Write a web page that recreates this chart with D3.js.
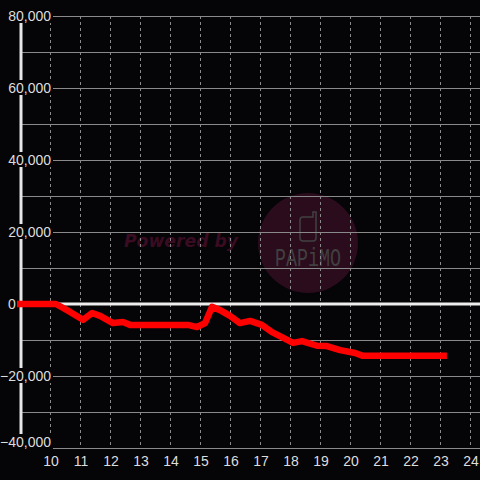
<!DOCTYPE html>
<html>
<head>
<meta charset="utf-8">
<script src="https://cdn.jsdelivr.net/npm/d3@7/dist/d3.min.js"></script>
<style>
  * { margin: 0; padding: 0; }
  body { background: #050407; overflow: hidden; }
  svg { display: block; }
</style>
</head>
<body>
<svg id="chart" width="480" height="480"></svg>
<script>
const hours = [8.9, 10.2, 10.67, 11.1, 11.4, 11.67, 12.1, 12.43, 12.67, 14.6, 14.9, 15.17, 15.4, 15.67, 16.0, 16.33, 16.67, 17.06, 17.4, 17.73, 18.1, 18.4, 18.9, 19.23, 19.67, 20.17, 20.43, 23.23]
const values = [0, 0, -2200, -4400, -2500, -3300, -5300, -5000, -5800, -5800, -6400, -5300, -800, -1700, -3300, -5300, -4700, -5800, -7800, -9200, -10800, -10300, -11600, -11700, -12800, -13600, -14400, -14400]
const yTicks = [80000, 60000, 40000, 20000, -20000, -40000]
const yGrid = [80000, 70000, 60000, 50000, 40000, 30000, 20000, 10000, -10000, -20000, -30000, -40000]
const xTicks = [10, 11, 12, 13, 14, 15, 16, 17, 18, 19, 20, 21, 22, 23, 24]

const svg = d3.select('#chart')
const x = d3.scaleLinear().domain([9, 24]).range([20, 470])
const y = d3.scaleLinear().domain([-40000, 80000]).range([448, 16])
const fmt = d3.format(',')

// watermark
const wm = svg.append('g')
wm.append('circle').attr('cx', 308).attr('cy', 243).attr('r', 50).attr('fill', '#2b0c1d')
wm.append('text').attr('x', 124).attr('y', 247)
  .attr('font-family', 'DejaVu Sans').attr('font-weight', 'bold').attr('font-style', 'italic')
  .attr('font-size', 17).attr('textLength', 114).attr('lengthAdjust', 'spacingAndGlyphs')
  .attr('fill', '#3a0c22').text('Powered by')
wm.append('path')
  .attr('d', 'M303,217 H313 V212 H316 V238 Q316,241 313,241 H303 Q300,241 300,238 V220 Q300,217 303,217 Z')
  .attr('fill', 'none').attr('stroke', '#404040').attr('stroke-width', 1.5)
wm.append('text').attr('x', 308).attr('y', 266).attr('text-anchor', 'middle')
  .attr('font-family', 'Liberation Mono').attr('font-size', 25)
  .attr('textLength', 66).attr('lengthAdjust', 'spacingAndGlyphs')
  .attr('fill', '#404040').text('PAPiMO')

// vertical dashed grid
svg.append('g').selectAll('line').data(xTicks).join('line')
  .attr('x1', d => x(d) + 0.5).attr('x2', d => x(d) + 0.5)
  .attr('y1', y(80000)).attr('y2', y(-40000))
  .attr('stroke', '#8a8a8a').attr('stroke-dasharray', '3,3')

// horizontal grid
svg.append('g').selectAll('line').data(yGrid).join('line')
  .attr('x1', 22).attr('x2', 480)
  .attr('y1', d => y(d) + 0.5).attr('y2', d => y(d) + 0.5)
  .attr('stroke', '#8a8a8a').attr('stroke-width', 1)

// zero line
svg.append('line').attr('x1', 22).attr('x2', 480).attr('y1', y(0)).attr('y2', y(0))
  .attr('stroke', '#eeeeee').attr('stroke-width', 3)

// y axis line
svg.append('line').attr('x1', 21).attr('x2', 21).attr('y1', y(80000)).attr('y2', y(-40000))
  .attr('stroke', '#e6e6e6').attr('stroke-width', 3)

// y labels with background (bottom one nudged up to stay above the x labels)
const yl = svg.append('g').selectAll('g').data(yTicks).join('g')
  .attr('transform', d => 'translate(0,' + (y(d) - (d === -40000 ? 6 : 0)) + ')')
yl.append('rect').attr('x', 3).attr('y', -8).attr('width', 50).attr('height', d => d === -40000 ? 21 : 15)
  .attr('fill', '#050407')
yl.append('text').attr('x', 51).attr('dy', '0.35em').attr('text-anchor', 'end')
  .attr('font-family', 'Liberation Sans').attr('font-size', 14).attr('fill', '#dddddd')
  .text(d => fmt(d))
svg.append('text').attr('x', 8).attr('y', y(0)).attr('dy', '0.35em')
  .attr('font-family', 'Liberation Sans').attr('font-size', 14).attr('fill', '#dddddd')
  .text(fmt(0))

// x labels
svg.append('g').selectAll('text').data(xTicks).join('text')
  .attr('x', d => x(d) + 1).attr('y', 466).attr('text-anchor', 'middle')
  .attr('font-family', 'Liberation Sans').attr('font-size', 14).attr('fill', '#dddddd')
  .text(d => d)

// series line
const line = d3.line().x((d, i) => x(hours[i])).y(d => y(d))
svg.append('path').datum(values).attr('d', line)
  .attr('fill', 'none').attr('stroke', '#ff0000').attr('stroke-width', 6.5)
  .attr('stroke-linejoin', 'round')
</script>
</body>
</html>
